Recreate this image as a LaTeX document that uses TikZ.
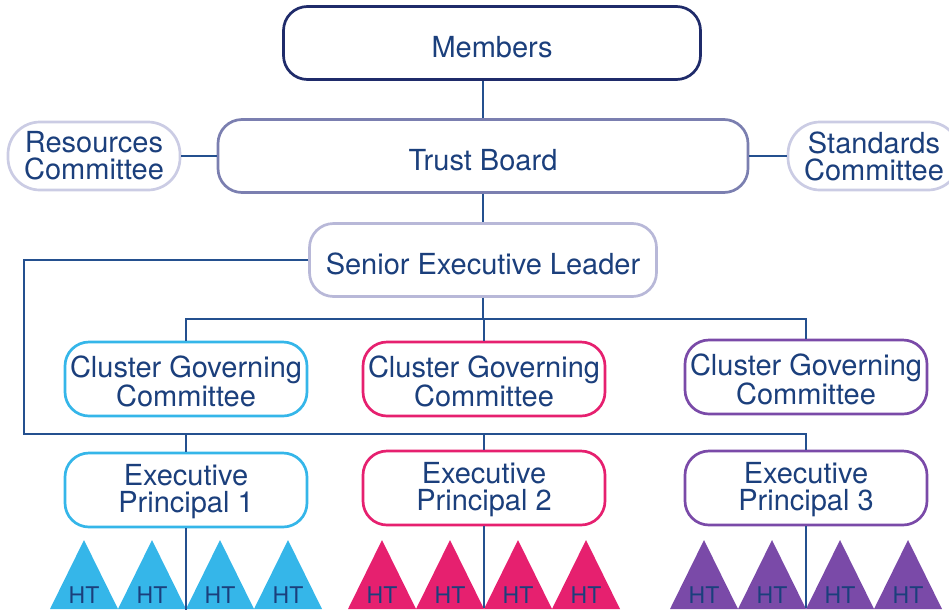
\documentclass[tikz,border=0pt]{standalone}
\usepackage{fontspec}
\setmainfont{TeX Gyre Heros}
\definecolor{navy}{HTML}{1B3F7C}
\definecolor{members}{HTML}{1F2B6A}
\definecolor{board}{HTML}{7B7FB0}
\definecolor{lilac}{HTML}{CBCCE4}
\definecolor{senior}{HTML}{B8B8D8}
\definecolor{htcyan}{HTML}{35B6E9}
\definecolor{htpink}{HTML}{E6206F}
\definecolor{htpurple}{HTML}{7A4AA8}
\definecolor{wirecol}{HTML}{24508F}
\tikzset{
    orgbox/.style={draw, fill=white, rounded corners=24pt, line width=2.7pt, align=center,
        text=navy, inner sep=0pt, font=\fontsize{29}{27}\selectfont},
    topbox/.style={orgbox, text height=29pt, minimum height=73pt},
    sidebox/.style={orgbox, draw=lilac, rounded corners=32pt, minimum width=172pt, minimum height=68pt},
    wire/.style={draw=wirecol, line width=2pt},
    ht/.style={text=navy, inner sep=0pt, font=\fontsize{23}{23}\selectfont},
}

\begin{document}
\begin{tikzpicture}[x=1pt,y=-1pt]
    \useasboundingbox (0,0) rectangle (949,611);
    \node[topbox, draw=members, minimum width=417pt] (members) at (492,43) {Members};
    \node[topbox, draw=board, minimum width=530pt] (board) at (483,156) {Trust Board};
    \node[sidebox] (resources) at (94,156) {Resources\\Committee};
    \node[sidebox] (standards) at (874,156) {Standards\\Committee};
    \node[topbox, draw=senior, minimum width=347pt] (sel) at (483,260) {Senior Executive Leader};
    \foreach \col/\x/\yc/\ye [count=\i] in {htcyan/186/379/490, htpink/484/379/488, htpurple/806/377/488}{
        \node[orgbox, draw=\col, text height=56pt, minimum width=242pt, minimum height=74pt] (cgc\i) at (\x,\yc) {Cluster Governing\\Committee};
        \node[orgbox, draw=\col, text height=52pt, minimum width=242pt, minimum height=74pt] (ep\i) at (\x,\ye) {Executive\\Principal \i};
        % schools
        \foreach \j in {1,...,4}{
            \pgfmathsetmacro{\tx}{\x+(2*\j-5)*34}
            \fill[\col] (\tx-34,609) -- (\tx,540) -- (\tx+34,609) -- cycle;
            \node[ht] (ht\i\j) at (\tx,595) {HT};
        }
    }
    \draw[wire] (board.north) -- (board.north |- members.south);
    \draw[wire] (board.south) -- (sel.north);
    \draw[wire] (resources.east) -- (board.west);
    \draw[wire] (board.east) -- (standards.west);
    \foreach \i in {1,2,3}
        \draw[wire] (sel.south) -- ++(0,21) -| (cgc\i.north);
    \coordinate (loop) at (24,434);
    \draw[wire] (sel.west) -| (loop) -| (ep3.north);
    \foreach \i in {1,2}
        \draw[wire] (ep\i.north) -- (ep\i.north |- loop);
    \foreach \i in {1,2,3}
        \draw[wire] (ep\i.south) -- ++(0,82);
\end{tikzpicture}
\end{document}
